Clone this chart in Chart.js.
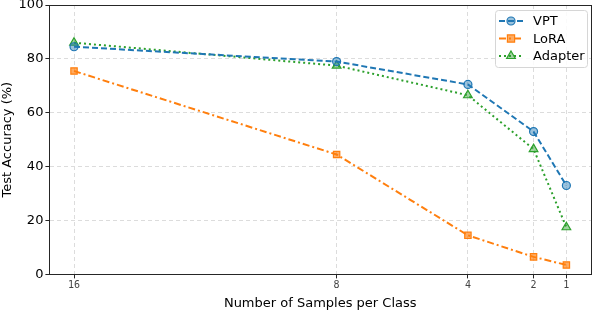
<!DOCTYPE html>
<html><head><meta charset="utf-8">
<script src="https://cdn.jsdelivr.net/npm/chart.js@4"></script>
<style>html,body{margin:0;padding:0;background:#fff}#w{width:594px;height:314px}</style>
</head><body><div id="w"><canvas id="c" width="594" height="314"></canvas></div>
<script>
const samples = [16, 8, 4, 2, 1];
const xTicks = [16, 8, 4, 2, 1];
const vpt = [84.5, 79, 70.5, 53, 33];
const lora = [75.5, 44.5, 14.5, 6.5, 3.5];
const adapter = [86, 77.5, 66.5, 46.5, 17.5];
const yTicks = [0, 20, 40, 60, 80, 100];

const toXY = (arr) => arr.map((v, i) => ({x: samples[i], y: v}));

function marker(ctx, ds, x, y) {
  const r = ds.pointRadius;
  ctx.fillStyle = ds.pointBackgroundColor;
  ctx.strokeStyle = ds.borderColor;
  ctx.lineWidth = ds.pointBorderWidth;
  ctx.setLineDash([]);
  ctx.beginPath();
  if (ds.pointStyle === 'circle') ctx.arc(x, y, r, 0, Math.PI * 2);
  else if (ds.pointStyle === 'rect') ctx.rect(x - r * 0.8, y - r * 0.8, r * 1.6, r * 1.6);
  else { ctx.moveTo(x, y - r); ctx.lineTo(x + r * 0.87, y + r * 0.5); ctx.lineTo(x - r * 0.87, y + r * 0.5); ctx.closePath(); }
  ctx.fill(); ctx.stroke();
}

const frame = {
  id: 'frame',
  afterDraw(chart) {
    const {ctx, chartArea: a} = chart;
    ctx.save();
    ctx.strokeStyle = '#262626';
    ctx.lineWidth = 1;
    ctx.setLineDash([]);
    ctx.strokeRect(Math.round(a.left) + 0.5, Math.round(a.top) + 0.5, Math.round(a.right - a.left), Math.round(a.bottom - a.top));
    const lx = 495, ly = 10, lw = 92, lh = 57;
    ctx.fillStyle = 'rgba(255,255,255,0.85)';
    ctx.strokeStyle = '#d6d6d6';
    ctx.beginPath();
    ctx.roundRect(lx + 0.5, ly + 0.5, lw, lh, 3);
    ctx.fill(); ctx.stroke();
    chart.data.datasets.forEach((ds, i) => {
      const y = ly + 11 + i * 17.5;
      ctx.strokeStyle = ds.borderColor;
      ctx.lineWidth = ds.borderWidth;
      ctx.setLineDash(ds.borderDash);
      ctx.beginPath(); ctx.moveTo(lx + 4, y); ctx.lineTo(lx + 28, y); ctx.stroke();
      marker(ctx, ds, lx + 16, y);
      ctx.fillStyle = '#000';
      ctx.font = '13px "DejaVu Sans"';
      ctx.textBaseline = 'middle';
      ctx.fillText(ds.label, lx + 38, y + 1);
    });
    ctx.restore();
  }
};

new Chart(document.getElementById('c'), {
  type: 'line',
  data: {
    datasets: [
      {label: 'VPT', data: toXY(vpt), borderColor: '#1f77b4', backgroundColor: '#1f77b4', pointBackgroundColor: 'rgba(31,119,180,0.45)', pointBorderColor: '#1f77b4', borderWidth: 2, borderDash: [6, 3], pointStyle: 'circle', pointRadius: 4, pointBorderWidth: 1.2},
      {label: 'LoRA', data: toXY(lora), borderColor: '#ff7f0e', backgroundColor: '#ff7f0e', pointBackgroundColor: 'rgba(255,127,14,0.65)', pointBorderColor: '#ff7f0e', borderWidth: 2, borderDash: [7, 3, 2, 3], pointStyle: 'rect', pointRadius: 4.5, pointBorderWidth: 1.2},
      {label: 'Adapter', data: toXY(adapter), borderColor: '#2ca02c', backgroundColor: '#2ca02c', pointBackgroundColor: 'rgba(44,160,44,0.45)', pointBorderColor: '#2ca02c', borderWidth: 2, borderDash: [2, 3], pointStyle: 'triangle', pointRadius: 5, pointBorderWidth: 1.2}
    ]
  },
  options: {
    responsive: false,
    animation: false,
    layout: {autoPadding: false, padding: {left: 0, right: 3, top: 0, bottom: 3}},
    plugins: {legend: {display: false}, tooltip: {enabled: false}},
    scales: {
      x: {
        type: 'linear', reverse: true, min: 0.25, max: 16.75,
        afterBuildTicks: (s) => { s.ticks = xTicks.map(v => ({value: v})); },
        afterFit: (s) => { s.paddingRight = 0; s.paddingLeft = 0; },
        ticks: {color: '#444', font: {family: 'DejaVu Sans Mono', size: 10}, padding: 1},
        grid: {color: '#dcdcdc', tickColor: '#262626', tickLength: 4, lineWidth: 1},
        border: {display: true, color: '#262626', dash: [4, 3]},
        title: {display: true, text: 'Number of Samples per Class', color: '#000', font: {family: 'DejaVu Sans', size: 13}, padding: {top: 3, bottom: 0}}
      },
      y: {
        min: 0, max: 100,
        afterBuildTicks: (s) => { s.ticks = yTicks.map(v => ({value: v})); },
        afterFit: (s) => { s.paddingTop = 5; s.paddingBottom = 0; },
        ticks: {color: '#000', font: {family: 'DejaVu Sans', size: 13}, padding: 2},
        grid: {color: '#dcdcdc', tickColor: '#262626', tickLength: 4, lineWidth: 1},
        border: {display: true, color: '#262626', dash: [4, 3]},
        title: {display: true, text: 'Test Accuracy (%)', color: '#000', font: {family: 'DejaVu Sans', size: 13}, padding: {top: 0, bottom: 1}}
      }
    }
  },
  plugins: [frame]
});
</script></body></html>
